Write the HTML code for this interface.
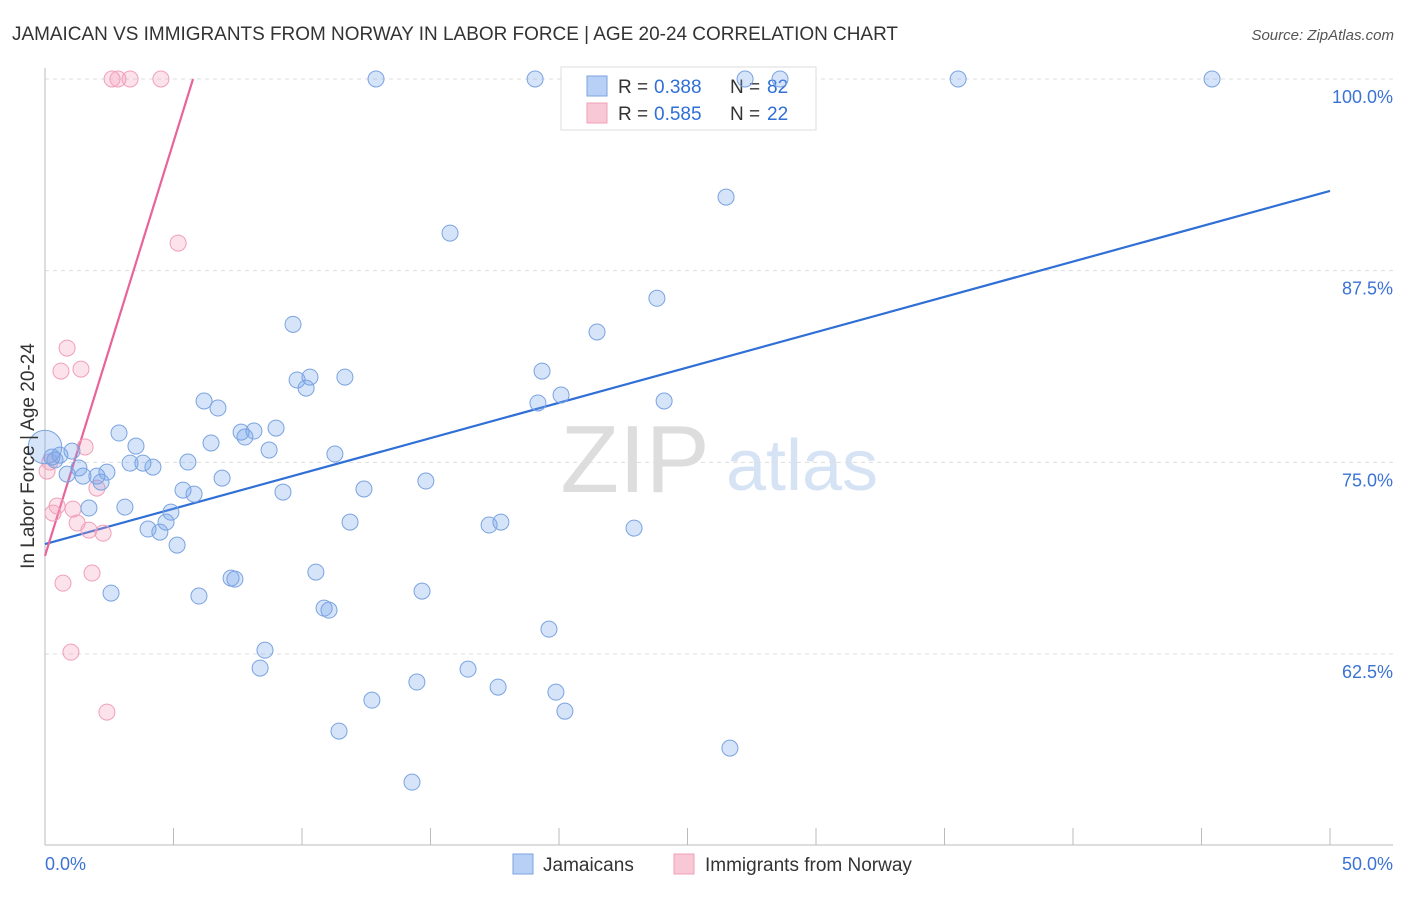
<!DOCTYPE html>
<html><head><meta charset="utf-8"><style>
body{margin:0;background:#fff;font-family:"Liberation Sans",sans-serif;}
svg text{font-family:"Liberation Sans",sans-serif;}
</style></head><body>
<svg id="chart" width="1406" height="892" xmlns="http://www.w3.org/2000/svg">
<text x="12" y="40" font-size="19" fill="#333" textLength="886" lengthAdjust="spacingAndGlyphs">JAMAICAN VS IMMIGRANTS FROM NORWAY IN LABOR FORCE | AGE 20-24 CORRELATION CHART</text>
<text x="1394" y="40" font-size="15" fill="#555" font-style="italic" text-anchor="end">Source: ZipAtlas.com</text>
<g>
<text x="635" y="492" font-size="96" fill="#ddd" font-family="Liberation Serif" text-anchor="middle">ZIP</text>
<text x="802" y="490" font-size="72" fill="#d6e3f5" text-anchor="middle">atlas</text>
</g>
<g id="grid"></g>
<g id="axes"></g>
<g>
<rect x="561" y="67" width="255" height="63" fill="#fff" stroke="#ddd"/>
<rect x="587" y="76" width="20" height="20" fill="#b8d0f5" stroke="#7aa3e0"/>
<rect x="587" y="103" width="20" height="20" fill="#f9c8d6" stroke="#f0a0b8"/>
<text x="618" y="93" font-size="19" fill="#333">R =</text>
<text x="654" y="93" font-size="19" fill="#2f6fd6">0.388</text>
<text x="730" y="93" font-size="19" fill="#333">N =</text>
<text x="767" y="93" font-size="19" fill="#2f6fd6">82</text>
<text x="618" y="120" font-size="19" fill="#333">R =</text>
<text x="654" y="120" font-size="19" fill="#2f6fd6">0.585</text>
<text x="730" y="120" font-size="19" fill="#333">N =</text>
<text x="767" y="120" font-size="19" fill="#2f6fd6">22</text>
</g>
<g id="lines"></g>
<g id="points"></g>
<text transform="translate(34,456) rotate(-90)" font-size="19" fill="#333" text-anchor="middle">In Labor Force | Age 20-24</text>
<text x="45" y="870" font-size="18" fill="#3b73d4">0.0%</text>
<text x="1393" y="870" font-size="18" fill="#3b73d4" text-anchor="end">50.0%</text>
<g>
<rect x="513" y="854" width="20" height="20" fill="#b8d0f5" stroke="#7aa3e0"/>
<text x="543" y="871" font-size="19" fill="#333">Jamaicans</text>
<rect x="674" y="854" width="20" height="20" fill="#f9c8d6" stroke="#f0a0b8"/>
<text x="705" y="871" font-size="19" fill="#333">Immigrants from Norway</text>
</g>
</svg>
<script>
const yTicks=[62.5,75.0,87.5,100.0];
const yTickLabels=["62.5%","75.0%","87.5%","100.0%"];
const xTicks=[0,5,10,15,20,25,30,35,40,45,50];
const blueX=[12.88,19.07,27.24,28.6,35.53,45.41,26.5,15.76,23.81,9.65,21.48,19.34,11.67,9.81,10.31,10.16,20.08,19.18,24.09,6.19,6.73,2.88,3.54,7.63,8.13,8.99,7.78,6.46,8.72,11.28,0.58,1.05,0.27,3.31,3.81,4.2,5.56,1.32,2.41,0.86,1.48,2.02,2.18,6.89,14.82,12.41,5.37,5.8,9.26,3.11,1.71,4.9,4.71,11.87,17.28,17.74,22.92,4.01,4.47,5.14,10.54,7.24,7.39,2.57,5.99,14.67,10.86,11.05,19.61,8.56,8.37,16.46,14.47,17.63,19.88,12.72,20.23,11.44,26.65,14.28,0,0.39];
const blueY=[100,100,100,100,100,100,92.3,89.95,85.7,84.0,83.5,80.95,80.56,80.37,80.56,79.84,79.39,78.87,79.0,79.0,78.54,76.91,76.06,76.97,77.04,77.23,76.65,76.26,75.8,75.54,75.47,75.73,75.34,74.95,74.95,74.69,75.02,74.63,74.36,74.23,74.1,74.1,73.71,73.97,73.78,73.26,73.19,72.93,73.06,72.08,72.02,71.75,71.1,71.1,70.91,71.1,70.71,70.65,70.45,69.6,67.84,67.45,67.38,66.47,66.28,66.6,65.49,65.36,64.12,62.75,61.58,61.51,60.67,60.34,60.01,59.49,58.77,57.47,56.36,54.14,76.0,75.15];
const blueSize=blueX.map((_,i)=>i===80?2.1:1);
const pinkX=[2.61,2.84,3.31,4.51,5.18,0.86,1.4,0.62,1.56,0.19,0.08,2.02,0.47,0.31,1.09,1.25,1.71,2.26,1.83,0.7,1.01,2.41];
const pinkY=[100,100,100,100,89.3,82.45,81.08,80.95,76.0,75.02,74.43,73.32,72.15,71.69,71.95,71.04,70.58,70.38,67.78,67.12,62.62,58.71];
const blueTrend=[69.67,92.7];
const pinkTrend=[68.9,100,5.76];
const X0=45,X1=1330,Ymap=v=>79+(100-v)*15.333;
const xs=v=>X0+v/50*(X1-X0);
const ns="http://www.w3.org/2000/svg";
function mk(t,a,p){const e=document.createElementNS(ns,t);for(const k in a)e.setAttribute(k,a[k]);p.appendChild(e);return e;}
const grid=document.getElementById('grid'),axes=document.getElementById('axes');
yTicks.forEach((v,i)=>{
 const g=mk('line',{x1:45,x2:1393,y1:Ymap(v),y2:Ymap(v),stroke:'#ddd','stroke-dasharray':'4,4'},grid);
 
 
 const t=mk('text',{x:1393,y:Ymap(v)+24,'font-size':18,fill:'#3b73d4','text-anchor':'end'},grid);
 t.textContent=yTickLabels[i];
 
 
});
mk('line',{x1:45,x2:45,y1:68,y2:845,stroke:'#bbb'},axes);
mk('line',{x1:45,x2:1393,y1:845,y2:845,stroke:'#bbb'},axes);
xTicks.forEach(v=>{
 const t=mk('line',{x1:xs(v),x2:xs(v),y1:828,y2:845,stroke:'#bbb'},axes);
 
 
});
const lines=document.getElementById('lines');
const bl=mk('line',{x1:xs(0),y1:Ymap(blueTrend[0]),x2:xs(50),y2:Ymap(blueTrend[1]),stroke:'#2f6fd6','stroke-width':2.2},lines);


const pts=document.getElementById('points');
pinkX.forEach((x,i)=>{
 const c=mk('circle',{cx:xs(x),cy:Ymap(pinkY[i]),r:8,fill:'rgba(244,160,188,0.3)',stroke:'#f0a0b8','stroke-width':1},pts);
 
 
});
blueX.forEach((x,i)=>{
 const c=mk('circle',{cx:xs(x),cy:Ymap(blueY[i]),r:8*blueSize[i],fill:'rgba(120,165,235,0.3)',stroke:'#7aa3e0','stroke-width':1},pts);
 
 
});
const pl=mk('line',{x1:xs(0),y1:Ymap(pinkTrend[0]),x2:xs(pinkTrend[2]),y2:Ymap(pinkTrend[1]),stroke:'#e8649a','stroke-width':2.2},lines);


</script>
</body></html>
